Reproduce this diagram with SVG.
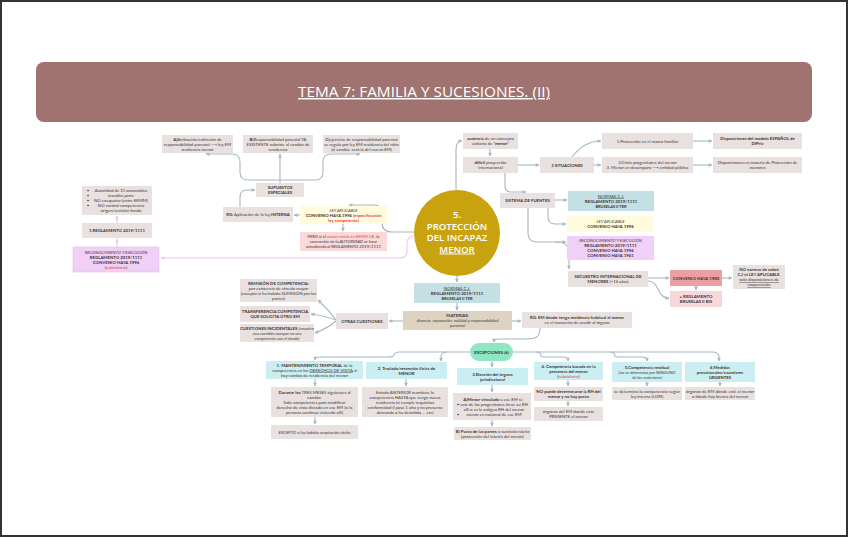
<svg xmlns="http://www.w3.org/2000/svg" width="848" height="537" viewBox="0 0 848 537">
<style>
.t{font-family:Lato,"Open Sans","DejaVu Sans",sans-serif;font-size:4.3px;fill:#3a3636;text-anchor:middle}
.b{font-weight:700}
.i{font-style:italic}
.r{fill:#f0403c}
.u{text-decoration:underline}
.g{fill:#e9e1e0}
.lb{fill:#cbeef3}
.nb{fill:#c4e0e5}
.y{fill:#fffbdc}
.p{fill:#f1d0f8}
.c{fill:none;stroke:#a8b7c3;stroke-width:1.1;marker-end:url(#ah)}
.pk{fill:none;stroke:#f2c3f4;stroke-width:1.1;marker-end:url(#ahp)}
</style>
<defs>
<marker id="ah" viewBox="0 0 6 6" refX="5" refY="3" markerWidth="4.5" markerHeight="4.5" markerUnits="userSpaceOnUse" orient="auto"><path d="M0.5,0.5 L5.5,3 L0.5,5.5 Z" fill="#a8b7c3"/></marker>
<marker id="ahp" viewBox="0 0 6 6" refX="5" refY="3" markerWidth="4.5" markerHeight="4.5" markerUnits="userSpaceOnUse" orient="auto"><path d="M0.5,0.5 L5.5,3 L0.5,5.5 Z" fill="#f2c3f4"/></marker>
</defs>
<rect x="1" y="1" width="846" height="535" fill="#ffffff" stroke="#333333" stroke-width="2"/>

<g id="title">
<rect x="36" y="62" width="776" height="60" rx="8" fill="#a07371"/>
<text x="424" y="97" font-family="'Open Sans',Lato,sans-serif" font-size="14.5" font-weight="500" fill="#ffffff" text-anchor="middle" text-decoration="underline" textLength="252" lengthAdjust="spacingAndGlyphs">TEMA 7: FAMILIA Y SUCESIONES. (II)</text>
</g>

<g id="connectors">
<path class="c" d="M456,190 V150 Q456,141 462,141"/>
<path class="c" d="M490,149 V156"/>
<path class="c" d="M518,165 H539"/>
<path class="c" d="M572,157 C578,149 588,141 601,141"/>
<path class="c" d="M594,165 H601"/>
<path class="c" d="M693,141 H712"/>
<path class="c" d="M693,165 H712"/>
<path class="c" d="M505,173 V186 Q505,192 511,192 H526"/>
<path class="c" d="M555,200 H567"/>
<path class="c" d="M548,208 V216 Q548,224 555,224 H566"/>
<path class="c" d="M528,208 V233 Q528,242 537,242 H566"/>
<path class="c" d="M555,242 Q569,242 569,252 V269"/>
<path class="c" d="M648,278 H669"/>
<path class="c" d="M648,281 C660,281 656,298 669,298"/>
<path class="c" d="M696,286 V290"/>
<path class="c" d="M722,278 H732"/>
<path class="c" d="M457,276 V282"/>
<path class="c" d="M457,303 V310"/>
<path class="c" d="M403,321 H389"/>
<path class="c" d="M512,321 H521"/>
<path class="c" d="M336,320 Q328,309 318,300"/>
<path class="c" d="M336,320 Q325,316 311,314"/>
<path class="c" d="M336,321 Q328,328 315,333"/>
<path class="c" d="M540,328 C540,338 535,339 525,339 H500 Q494,339 494,342"/>
<path class="c" d="M470,352 H447 Q441,352 441,357 V361"/>
<path class="c" d="M447,352 H400 Q394,352 394,355 Q394,357 388,357 H321 Q315,357 315,360"/>
<path class="c" d="M492,361 V367"/>
<path class="c" d="M513,352 H712 Q719,352 719,357 V361"/>
<path class="c" d="M536,352 Q541,352 541,356 Q541,357 546,357 H563 Q568,357 568,361"/>
<path class="c" d="M610,352 Q615,352 615,356 Q615,357 620,357 H642 Q647,357 647,361"/>
<path class="c" d="M315,379 V386"/>
<path class="c" d="M315,417 V424"/>
<path class="c" d="M406,379 V386"/>
<path class="c" d="M492,385 V392"/>
<path class="c" d="M492,420 V426"/>
<path class="c" d="M568,380 V386"/>
<path class="c" d="M568,401 V406"/>
<path class="c" d="M647,382 V386"/>
<path class="c" d="M720,382 V386"/>
<path class="c" d="M414,232 H392 Q382,232 382,222 V213 Q382,205 374,205 H349"/>
<path class="c" d="M300,215 H294"/>
<path class="c" d="M343,224 V231"/>
<path class="c" d="M240,207 V197 Q240,190 247,190 H255"/>
<path class="c" d="M280,183 V154"/>
<path class="c" d="M280,180 H248 Q240,180 240,172 V162 Q240,154 232,154 H206"/>
<path class="c" d="M280,180 H315 Q323,180 323,172 V162 Q323,154 331,154 H360"/>
<path class="pk" d="M414,236 Q407,236 407,244 V251 Q407,258 399,258 H161"/>
<path class="pk" d="M117,247 V239"/>
<path class="pk" d="M117,223 V216"/>
</g>

<g id="center">
<circle cx="457" cy="233" r="43" fill="#c8a30f"/>
<text x="457" y="218" font-family="'Open Sans',Lato,sans-serif" font-size="9.6" font-weight="600" fill="#ffffff" text-anchor="middle">5.<tspan x="457" dy="11.5">PROTECCIÓN</tspan><tspan x="457" dy="11.5">DEL INCAPAZ</tspan><tspan x="457" dy="11.5" text-decoration="underline">MENOR</tspan></text>
</g>

<g id="nA"><rect class="g" x="162" y="135" width="71" height="18"/><text class="t" x="197.5" y="140.5"><tspan class="b">A)</tspan>Atribución/extinción de<tspan x="197.5" dy="5">responsabilidad parental  ⟶ ley EM</tspan><tspan x="197.5" dy="5">residencia menor</tspan></text></g>
<g id="nB"><rect class="g" x="243" y="135" width="70" height="18"/><text class="t" x="278" y="140.5"><tspan class="b">B)</tspan>Responsabilidad parental YA<tspan x="278" dy="5">EXISTENTE subsiste al cambio de</tspan><tspan x="278" dy="5">residencia</tspan></text></g>
<g id="nC"><rect class="g" x="323" y="135" width="77" height="18"/><text class="t" x="361.5" y="140.5"><tspan class="b">C)</tspan>ejercicio de responsabilidad parental<tspan x="361.5" dy="5">se regula por ley EM residencia del niño</tspan><tspan x="361.5" dy="5">(si cambia, será la del nuevo EM)</tspan></text></g>
<g id="nSup"><rect class="g" x="256" y="183" width="48" height="14"/><text class="t b" x="280" y="189">SUPUESTOS<tspan x="280" dy="5">ESPECIALES</tspan></text></g>
<g id="nRG"><rect class="g" x="223" y="207" width="70" height="15"/><text class="t" x="258" y="216"><tspan class="b">RG:</tspan> Aplicación de la ley <tspan class="b">INTERNA</tspan></text></g>
<g id="nLey1"><rect class="y" x="300" y="206" width="87" height="18"/><text class="t" x="343.5" y="211.5"><tspan class="i">LEY APLICABLE</tspan><tspan x="343.5" dy="5"><tspan class="b">CONVENIO HAYA 1996</tspan> (<tspan class="b r">especificación</tspan></tspan><tspan x="343.5" dy="5"><tspan class="b r">ley competente</tspan>)</tspan></text></g>
<g id="nPero"><rect x="300" y="232" width="87" height="19" fill="#f9d9da"/><text class="t i" x="343.5" y="238">PERO si el <tspan class="r">menor reside en EEMM UE</tspan>, la<tspan x="343.5" dy="5">concreción de la AUTORIDAD se hace</tspan><tspan x="343.5" dy="5">atendiendo al REGLAMENTO 2019/1111</tspan></text></g>
<g id="nBul"><rect class="g" x="82" y="186" width="70" height="29"/><text class="t" x="121" y="192">Autoridad de CJ automática<tspan x="121" dy="5">inaudita parte</tspan><tspan x="121" dy="5">NO exequatur (entre EEMM)</tspan><tspan x="121" dy="5">NO control competencia</tspan><tspan x="121" dy="5">origen/revisión fondo</tspan></text><text class="t" x="88" y="192">•<tspan x="88" dy="5">•</tspan><tspan x="88" dy="5">•</tspan><tspan x="88" dy="5">•</tspan></text></g>
<g id="nReg1"><rect class="g" x="82" y="223" width="70" height="15"/><text class="t b" x="117" y="232">1.REGLAMENTO 2019/1111</text></g>
<g id="nRec1"><rect class="p" x="73" y="247" width="86" height="25" stroke="#e8b6f1" stroke-width="0.6"/><text class="t" x="116" y="253.5"><tspan class="i">RECONOCIMIENTO Y EJECUCIÓN</tspan><tspan x="116" dy="5" class="b">REGLAMENTO 2019/1111</tspan><tspan x="116" dy="5" class="b">CONVENIO HAYA 1996</tspan><tspan x="116" dy="5">(<tspan class="r">subsidiario</tspan>)</tspan></text></g>

<g id="nAus"><rect class="g" x="463" y="133" width="55" height="16"/><text class="t" x="490.5" y="140"><tspan class="b">ausencia</tspan> de un concepto<tspan x="490.5" dy="5">unitario de "<tspan class="b">menor</tspan>"</tspan></text></g>
<g id="nDif"><rect class="g" x="463" y="157" width="55" height="16"/><text class="t" x="490.5" y="164"><tspan class="b">difícil</tspan> proyección<tspan x="490.5" dy="5">internacional</tspan></text></g>
<g id="n3Sit"><rect class="g" x="540" y="157" width="54" height="16"/><text class="t b" x="567" y="166.5">3 SITUACIONES</text></g>
<g id="nProt"><rect class="g" x="602" y="133" width="91" height="16"/><text class="t" x="647.5" y="142.5">1.Protección en el marco familiar</text></g>
<g id="nCris"><rect class="g" x="602" y="157" width="91" height="16"/><text class="t" x="647.5" y="164">2.Crisis progenitores del menor<tspan x="647.5" dy="5">3. Menor en desamparo ⟶ entidad pública</tspan></text></g>
<g id="nDisp1"><rect class="g" x="713" y="133" width="89" height="16"/><text class="t b" x="757.5" y="140">Disposiciones del modelo ESPAÑOL de<tspan x="757.5" dy="5">DIPriv</tspan></text></g>
<g id="nDisp2"><rect class="g" x="713" y="157" width="89" height="16"/><text class="t" x="757.5" y="164">Disposiciones en materia de Protección de<tspan x="757.5" dy="5">menores</tspan></text></g>
<g id="nSist"><rect class="g" x="500" y="193" width="55" height="15"/><text class="t b" x="527.5" y="202">SISTEMA DE FUENTES</text></g>
<g id="nNormas1"><rect class="nb" x="568" y="191" width="86" height="20"/><text class="t" x="611" y="197.5"><tspan class="u">NORMAS C.J.</tspan><tspan x="611" dy="5" class="b">REGLAMENTO 2019/1111</tspan><tspan x="611" dy="5" class="b i">BRUSELAS II TER</tspan></text></g>
<g id="nLey2"><rect class="y" x="567" y="216" width="87" height="16"/><text class="t" x="610.5" y="223"><tspan class="i">LEY APLICABLE</tspan><tspan x="610.5" dy="5" class="b">CONVENIO HAYA 1996</tspan></text></g>
<g id="nRec2"><rect class="p" x="567" y="236" width="87" height="24"/><text class="t" x="610.5" y="242"><tspan class="i">RECONOCIMIENTO Y EJECUCIÓN</tspan><tspan x="610.5" dy="5" class="b">REGLAMENTO 2019/1111</tspan><tspan x="610.5" dy="5" class="b">CONVENIO HAYA 1996</tspan><tspan x="610.5" dy="5" class="b">CONVENIO HAYA 1961</tspan></text></g>
<g id="nSec"><rect class="g" x="568" y="271" width="80" height="16"/><text class="t" x="608" y="278"><tspan class="b">SECUESTRO INTERNACIONAL DE</tspan><tspan x="608" dy="5"><tspan class="b">MENORES</tspan> <tspan class="i">(&lt;16 años)</tspan></tspan></text></g>
<g id="nConv80"><rect x="670" y="270" width="52" height="16" fill="#eb9fa1"/><text class="t b" x="696" y="279.5">CONVENIO HAYA 1980</text></g>
<g id="nBis"><rect x="670" y="291" width="52" height="16" fill="#f8d6d9"/><text class="t b" x="696" y="298">+ REGLAMENTO<tspan x="696" dy="5">BRUSELAS II BIS</tspan></text></g>
<g id="nNoNorm"><rect class="g" x="733" y="265" width="52" height="24"/><text class="t" x="759" y="271"><tspan class="b">NO normas de sobre</tspan><tspan x="759" dy="5" class="b">C.J ni LEY APLICABLE.</tspan><tspan x="759" dy="5" class="u">solo disposiciones de</tspan><tspan x="759" dy="5" class="u">cooperación</tspan></text></g>
<g id="nRG2"><rect class="g" x="522" y="312" width="110" height="16"/><text class="t" x="577" y="319"><tspan class="b">RG: EM dónde tenga residencia habitual el menor</tspan><tspan x="577" dy="5">en el momento de acudir al órgano</tspan></text></g>

<g id="nNormas2"><rect class="nb" x="414" y="283" width="86" height="20"/><text class="t" x="457" y="289.5"><tspan class="u">NORMAS C.J.</tspan><tspan x="457" dy="5" class="b">REGLAMENTO 2019/1111</tspan><tspan x="457" dy="5" class="b i">BRUSELAS II TER</tspan></text></g>
<g id="nMat"><rect x="403" y="311" width="109" height="19" fill="#ddd3c0"/><text class="t" x="457.5" y="317"><tspan class="b">MATERIAS:</tspan><tspan x="457.5" dy="5" class="i">divorcio, separación, nulidad y responsabilidad</tspan><tspan x="457.5" dy="5" class="i">parental</tspan></text></g>
<g id="nOtras"><rect class="g" x="336" y="313" width="52" height="16"/><text class="t b" x="362" y="322.5">OTRAS CUESTIONES</text></g>
<g id="nRem"><rect class="g" x="240" y="279" width="77" height="23"/><text class="t" x="278.5" y="284.5"><tspan class="b">REMISIÓN DE COMPETENCIA:</tspan><tspan x="278.5" dy="5">por existencia de vínculo mayor</tspan><tspan x="278.5" dy="5">(excepto si ha habido SUMISIÓN por las</tspan><tspan x="278.5" dy="5">partes)</tspan></text></g>
<g id="nTrans"><rect class="g" x="240" y="306" width="70" height="16"/><text class="t b" x="275" y="313">TRANSFERENCIA COMPETENCIA<tspan x="275" dy="5">QUE SOLICITA OTRO EM</tspan></text></g>
<g id="nCuest"><rect class="g" x="240" y="324" width="74" height="18"/><text class="t" x="277" y="329.5"><tspan class="b">CUESTIONES INCIDENTALES</tspan> <tspan class="i">(resuelve</tspan><tspan x="277" dy="5" class="i">esa cuestión aunque no sea</tspan><tspan x="277" dy="5" class="i">competente con el fondo)</tspan></text></g>
<g id="nExc"><rect x="470" y="343" width="43" height="18" rx="9" fill="#8fe6c2"/><text class="t b" x="491.5" y="353.5">EXCEPCIONES (6)</text></g>

<g id="nE1"><rect class="lb" x="266" y="361" width="97" height="18"/><text class="t" x="314.5" y="366.5"><tspan class="b">1. MANTENIMIENTO TEMPORAL</tspan> de la<tspan x="314.5" dy="5">competencia en los <tspan class="u">DERECHOS DE VISITA</tspan> si</tspan><tspan x="314.5" dy="5">hay cambio de residencia del menor</tspan></text></g>
<g id="nE1a"><rect class="g" x="271" y="387" width="87" height="30"/><text class="t" x="314.5" y="393.5"><tspan class="b">Durante los</tspan> TRES MESES siguientes al<tspan x="314.5" dy="5">cambio.</tspan><tspan x="314.5" dy="5">Solo competentes para modificar</tspan><tspan x="314.5" dy="5">derecho de vista dictada en ese EM (si la</tspan><tspan x="314.5" dy="5">persona continua viviendo allí)</tspan></text></g>
<g id="nE1b"><rect class="g" x="271" y="425" width="87" height="14"/><text class="t i" x="314.5" y="433.5">EXCEPTO si ha habido aceptación tácita</text></g>
<g id="nE2"><rect class="lb" x="366" y="362" width="81" height="17"/><text class="t b" x="406.5" y="369.5">2. Traslado/retención ilícita de<tspan x="406.5" dy="5">MENOR</tspan></text></g>
<g id="nE2a"><rect class="g" x="362" y="387" width="86" height="30"/><text class="t" x="405" y="393.5">Estado ANTERIOR mantiene la<tspan x="405" dy="5">competencia HASTA que tenga nueva</tspan><tspan x="405" dy="5">residencia (si cumple requisitos</tspan><tspan x="405" dy="5">conformidad (l pasa 1 año y no presenta</tspan><tspan x="405" dy="5">demanda o ha desistido ... etc)</tspan></text></g>
<g id="nE3"><rect class="lb" x="457" y="368" width="71" height="17"/><text class="t b" x="492.5" y="375.5">3.Elección del órgano<tspan x="492.5" dy="5">jurisdiccional</tspan></text></g>
<g id="nE3a"><rect class="g" x="453" y="393" width="78" height="27"/><text class="t" x="493" y="400.5"><tspan class="b">A)Menor vinculado</tspan> a ese EM si:<tspan x="494" dy="5">uno de los progenitores tiene su RH</tspan><tspan x="494" dy="5">allí o es la antigua RH del menor</tspan><tspan x="494" dy="5">menor es nacional de ese EM</tspan></text><text class="t" x="458" y="405.5">•<tspan x="458" dy="10">•</tspan></text></g>
<g id="nE3b"><rect class="g" x="454" y="427" width="77" height="13"/><text class="t" x="492.5" y="432.5"><tspan class="b">B) Pacto de las partes</tspan> o sumisión tácita<tspan x="492.5" dy="5">(protección del interés del menor)</tspan></text></g>
<g id="nE4"><rect class="lb" x="534" y="362" width="69" height="18"/><text class="t b" x="568.5" y="367.5">4. Competencia basada en la<tspan x="568.5" dy="5">presencia del menor</tspan><tspan x="568.5" dy="5" font-weight="400">(<tspan class="r">subsidiario</tspan>)</tspan></text></g>
<g id="nE4a"><rect class="g" x="534" y="387" width="69" height="14"/><text class="t b" x="568.5" y="393">NO puede determinarse la RH del<tspan x="568.5" dy="5">menor y no hay pacto</tspan></text></g>
<g id="nE4b"><rect class="g" x="534" y="407" width="69" height="14"/><text class="t" x="568.5" y="413">órganos del EM donde esté<tspan x="568.5" dy="5">PRESENTE el menor</tspan></text></g>
<g id="nE5"><rect class="lb" x="612" y="362" width="70" height="20"/><text class="t" x="647" y="368.5"><tspan class="b">5.Competencia residual</tspan><tspan x="647" dy="5" class="i">(no se determina por NINGUNO</tspan><tspan x="647" dy="5" class="i">de los anteriores)</tspan></text></g>
<g id="nE5a"><rect class="g" x="612" y="387" width="70" height="13"/><text class="t" x="647" y="392.5">se determina la competencia según<tspan x="647" dy="5">ley interna (LOPJ)</tspan></text></g>
<g id="nE6"><rect class="lb" x="685" y="362" width="70" height="20"/><text class="t b" x="720" y="368.5">6.Medidas<tspan x="720" dy="5">provisionales/cautelares</tspan><tspan x="720" dy="5">URGENTES</tspan></text></g>
<g id="nE6a"><rect class="g" x="685" y="387" width="70" height="13"/><text class="t" x="720" y="392.5">órganos de EM dónde esté el menor<tspan x="720" dy="5">o dónde hay bienes del menor</tspan></text></g>
</svg>
